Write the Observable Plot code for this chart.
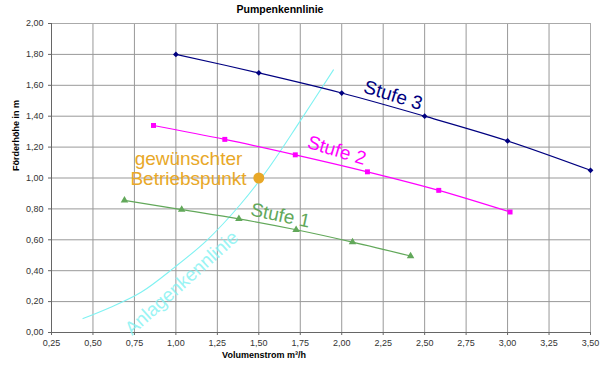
<!DOCTYPE html>
<html><head><meta charset="utf-8">
<script src="https://cdn.jsdelivr.net/npm/d3@7"></script>
<script src="https://cdn.jsdelivr.net/npm/@observablehq/plot@0.6"></script>
<style>
body{margin:0;background:#fff;}
svg{font-family:"Liberation Sans",Arial,Helvetica,sans-serif;}
</style>
</head><body><div id="chart"></div>
<script>
const title = "Pumpenkennlinie";
const xLabel = "Volumenstrom m³/h";
const yLabel = "Förderhöhe in m";
const xTicks = [0.25,0.5,0.75,1,1.25,1.5,1.75,2,2.25,2.5,2.75,3,3.25,3.5];
const yTicks = [0,0.2,0.4,0.6,0.8,1,1.2,1.4,1.6,1.8,2];

const stufe3X = [1.00,1.50,2.00,2.50,3.00,3.50];
const stufe3Y = [1.80,1.68,1.55,1.40,1.24,1.05];
const stufe2X = [0.865,1.295,1.72,2.155,2.585,3.015];
const stufe2Y = [1.34,1.25,1.15,1.04,0.92,0.78];
const stufe1X = [0.69,1.035,1.38,1.725,2.065,2.415];
const stufe1Y = [0.855,0.795,0.735,0.665,0.585,0.495];
const anlageX = [0.44,0.60,0.79,0.99,1.19,1.39,1.55,1.75,1.95];
const anlageY = [0.09,0.16,0.26,0.42,0.60,0.83,1.05,1.37,1.70];
const betriebX = [1.5];
const betriebY = [1.0];

const seriesNames = ["Stufe 3","Stufe 2","Stufe 1"];
const anlageName = "Anlagenkennlinie";
const betriebName = "gewünschter\nBetriebspunkt";
// label anchor points in data space
const labelX = [2.31,1.97,1.63];
const labelY = [1.535,1.178,0.757];
const anlageLabelX = [1.035];
const anlageLabelY = [0.32];
const betriebLabelX = [1.076];
const betriebLabelY = [1.06];

const colors = {s3:"#000080", s2:"#ff00ff", s1:"#62a85a", anl:"#7ff2f2", bp:"#e8a828"};

const toRows = (xs, ys) => xs.map((x,i) => ({x, y: ys[i]}));
const s3 = toRows(stufe3X, stufe3Y);
const s2 = toRows(stufe2X, stufe2Y);
const s1 = toRows(stufe1X, stufe1Y);
const anl = toRows(anlageX, anlageY);
const bp = toRows(betriebX, betriebY);
const labelRows = seriesNames.map((n,i) => ({name:n, x:labelX[i], y:labelY[i], c:[colors.s3,colors.s2,colors.s1][i], r:[17,17,12][i]}));
const fmt = v => v.toFixed(2).replace(".", ",");

const chart = Plot.plot({
  width: 600, height: 365,
  marginLeft: 51, marginRight: 10, marginTop: 23, marginBottom: 33,
  style: {fontFamily: '"Liberation Sans",Arial,sans-serif', background: "#fff", color: "#333"},
  x: {domain: [0.25, 3.5], ticks: xTicks, tickFormat: fmt, tickSize: 3, tickPadding: 4, label: null},
  y: {domain: [0, 2], ticks: yTicks, tickFormat: fmt, tickSize: 3, tickPadding: 5, label: null},
  marks: [
    Plot.gridX(xTicks, {stroke: "#999", strokeOpacity: 1}),
    Plot.gridY(yTicks, {stroke: "#999", strokeOpacity: 1}),
    Plot.frame({stroke: "#aaa"}),
    Plot.axisX({ticks: xTicks, tickFormat: fmt, tickSize: 3, tickPadding: 4, fontSize: 9, label: null, stroke: "#666"}),
    Plot.axisY({ticks: yTicks, tickFormat: fmt, tickSize: 3, tickPadding: 5, fontSize: 9, label: null, stroke: "#666"}),
    Plot.ruleY([0], {stroke: "#666"}),
    Plot.ruleX([0.25], {stroke: "#666"}),
    Plot.line(anl, {x: "x", y: "y", stroke: colors.anl, strokeWidth: 1.1, curve: "catmull-rom"}),
    Plot.line(s3, {x: "x", y: "y", stroke: colors.s3, strokeWidth: 1.2, curve: "catmull-rom"}),
    Plot.dot(s3, {x: "x", y: "y", symbol: "diamond2", fill: colors.s3, r: 2.6}),
    Plot.line(s2, {x: "x", y: "y", stroke: colors.s2, strokeWidth: 1.2, curve: "catmull-rom"}),
    Plot.dot(s2, {x: "x", y: "y", symbol: "square", fill: colors.s2, r: 2.8}),
    Plot.line(s1, {x: "x", y: "y", stroke: colors.s1, strokeWidth: 1.2, curve: "catmull-rom"}),
    Plot.dot(s1, {x: "x", y: "y", symbol: "triangle", fill: colors.s1, r: 2.8}),
    Plot.dot(bp, {x: "x", y: "y", fill: colors.bp, r: 5.5}),
    Plot.text(labelRows, {x: "x", y: "y", text: "name", fill: "c", rotate: "r", fontSize: 19, textAnchor: "middle"}),
    Plot.text([{x: anlageLabelX[0], y: anlageLabelY[0]}], {x: "x", y: "y", text: [anlageName], fill: colors.anl, fillOpacity: 0.8, rotate: -42, fontSize: 19, textAnchor: "middle"}),
    Plot.text([{x: betriebLabelX[0], y: betriebLabelY[0]}], {x: "x", y: "y", text: [betriebName], fill: colors.bp, fontSize: 19, lineHeight: 1.05, textAnchor: "middle"}),
    Plot.text([title], {frameAnchor: "top", dx: -41, dy: -11, lineAnchor: "bottom", fontSize: 10.5, fontWeight: "bold", fill: "#000"}),
    Plot.text([xLabel], {frameAnchor: "bottom", dx: -57, dy: 25, lineAnchor: "bottom", fontSize: 9, fontWeight: "bold", fill: "#000"}),
    Plot.text([yLabel], {frameAnchor: "left", dx: -35, dy: -7, rotate: -90, fontSize: 9, fontWeight: "bold", fill: "#000"})
  ]
});
document.getElementById("chart").appendChild(chart);
</script>
</body></html>
